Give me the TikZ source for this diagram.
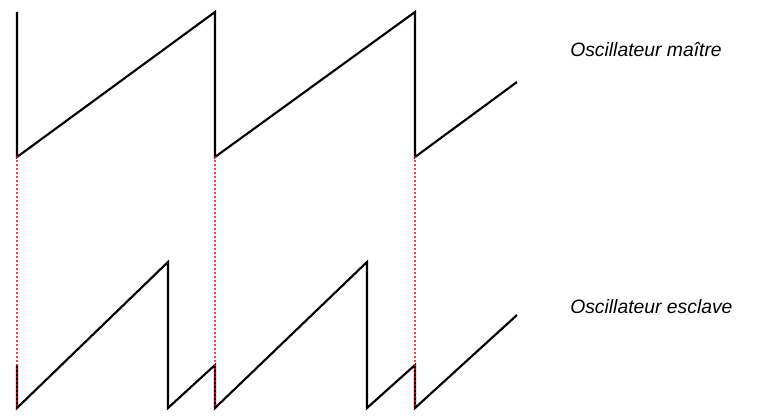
\documentclass[tikz,border=0pt]{standalone}
\usepackage{fontspec}
\setmainfont{Liberation Sans}
\begin{document}
\begin{tikzpicture}[x=0.75pt,y=-0.75pt]
    \tikzset{wave/.style={black,line width=1.6pt,line join=miter},
             sync/.style={red,line width=1.6pt,line cap=round,dash pattern=on 0pt off 3pt},
             label/.style={anchor=west,font=\itshape\fontsize{14.5}{16}\selectfont,inner sep=0pt}}
    \useasboundingbox (0,0) rectangle (768,420);
    % oscillateur maitre
    \draw [wave] (17,12) -- (17,157) -- (215,12) -- (215,157) -- (415,12) -- (415,157) -- (517,82);
    % oscillateur esclave
    \draw [wave] (17,365) -- (17,408) -- (168,262) -- (168,408) -- (215,365) -- (215,408)
        -- (367,262) -- (367,408) -- (415,365) -- (415,408) -- (517,315);
    % synchronisation
    \foreach \x in {17,215,415}
        \draw [sync] (\x,157) -- (\x,408);
    \node [label] (maitre) at (570,50) {Oscillateur maître};
    \node [label] (esclave) at (570,307) {Oscillateur esclave};
\end{tikzpicture}
\end{document}
